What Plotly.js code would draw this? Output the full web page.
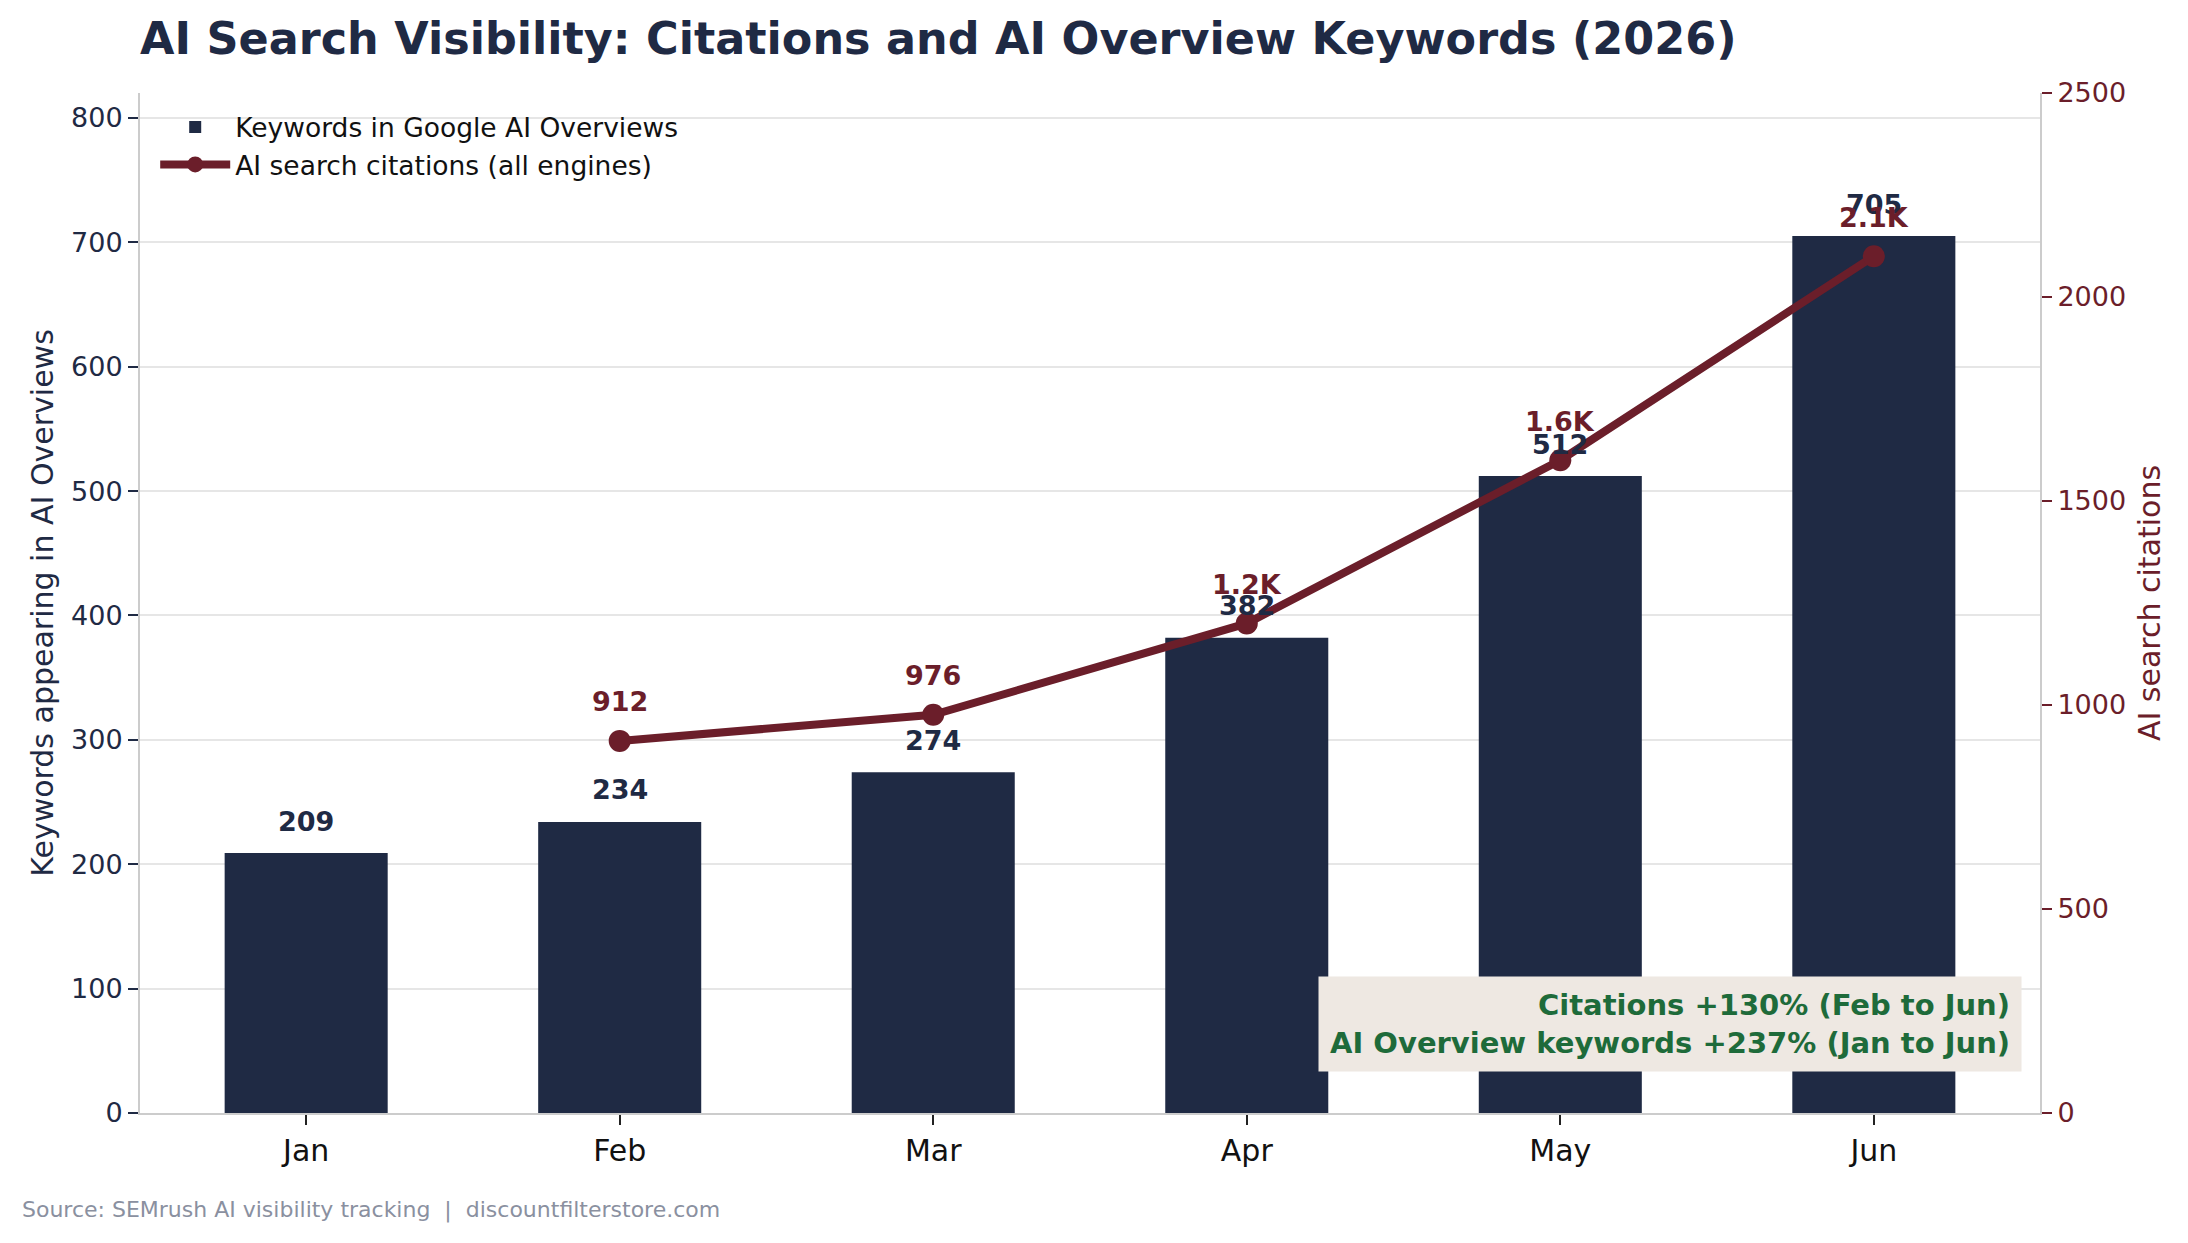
<!DOCTYPE html>
<html>
<head>
<meta charset="utf-8">
<script src="https://cdn.plot.ly/plotly-3.0.1.min.js"></script>
<style>
  html, body { margin: 0; padding: 0; background: #ffffff; }
  #chart { width: 2188px; height: 1243px; }
</style>
</head>
<body>
<div id="chart"></div>
<script>
// data
const months = ['Jan', 'Feb', 'Mar', 'Apr', 'May', 'Jun'];
const overviewKeywords = [209, 234, 274, 382, 512, 705];
const citations = [null, 912, 976, 1200, 1600, 2100];
const summaryLines = ['Citations +130% (Feb to Jun)', 'AI Overview keywords +237% (Jan to Jun)'];

const NAVY = '#1f2a44';
const MAROON = '#6b1e2a';
const GREEN = '#1e6b3a';
const FONT = 'DejaVu Sans, Liberation Sans, sans-serif';

fmtCitation = (v) => v >= 1000 ? `${(v / 1000).toFixed(1)}K` : `${v}`;

buildChart = () => {
    const bars = {
        x: months,
        y: overviewKeywords,
        type: 'bar',
        name: 'Keywords in Google AI Overviews',
        width: 0.52,
        marker: { color: NAVY },
        hoverinfo: 'skip'
    };
    const line = {
        x: months,
        y: citations,
        yaxis: 'y2',
        type: 'scatter',
        mode: 'lines+markers',
        name: 'AI search citations (all engines)',
        line: { color: MAROON, width: 8 },
        marker: { color: MAROON, size: 22 },
        connectgaps: false,
        hoverinfo: 'skip'
    };

    // value labels above bars and points
    const barLabels = overviewKeywords.map((v, i) => ({
        x: months[i], y: v, xref: 'x', yref: 'y',
        text: `<b>${v}</b>`, showarrow: false,
        yanchor: 'middle', yshift: 32,
        font: { family: FONT, size: 27, color: NAVY }
    }));
    const lineLabels = citations.map((v, i) => v === null ? null : ({
        x: months[i], y: v, xref: 'x', yref: 'y2',
        text: `<b>${fmtCitation(v)}</b>`, showarrow: false,
        yanchor: 'middle', yshift: 39,
        font: { family: FONT, size: 27, color: MAROON }
    })).filter((a) => a !== null);

    const summary = {
        xref: 'paper', yref: 'paper', x: 0.9905, y: 0.04,
        xanchor: 'right', yanchor: 'bottom', align: 'right',
        text: summaryLines.map((s) => `<b>${s}</b>`).join('<br>'),
        showarrow: false,
        bgcolor: '#eee8e2', borderpad: 11,
        font: { family: FONT, size: 29, color: GREEN }
    };
    const source = {
        xref: 'paper', yref: 'paper', x: -0.063, y: -0.095,
        xanchor: 'left', yanchor: 'middle',
        text: 'Source: SEMrush AI visibility tracking  |  discountfilterstore.com',
        showarrow: false,
        font: { family: FONT, size: 22, color: '#8a90a0' }
    };

    const layout = {
        width: 2188,
        height: 1243,
        margin: { l: 140, r: 148, t: 93, b: 130 },
        paper_bgcolor: '#ffffff',
        plot_bgcolor: '#ffffff',
        font: { family: FONT, color: NAVY },
        title: {
            text: '<b>AI Search Visibility: Citations and AI Overview Keywords (2026)</b>',
            font: { family: FONT, size: 44.5, color: NAVY },
            xref: 'paper', x: 0, xanchor: 'left',
            yref: 'container', y: 1 - 38 / 1243, yanchor: 'middle'
        },
        bargap: 0.48,
        xaxis: {
            range: [-0.53, 5.53],
            showline: true, linecolor: '#cccccc', linewidth: 2,
            ticks: 'outside', ticklen: 10, tickwidth: 2, tickcolor: '#222222',
            tickfont: { family: FONT, size: 30, color: '#111111' },
            showgrid: false, zeroline: false
        },
        yaxis: {
            range: [0, 820], dtick: 100,
            title: {
                text: 'Keywords appearing in AI Overviews',
                font: { family: FONT, size: 30, color: NAVY },
                standoff: 9
            },
            showline: true, linecolor: '#cccccc', linewidth: 2,
            ticks: 'outside', ticklen: 10, tickwidth: 2, tickcolor: NAVY,
            tickfont: { family: FONT, size: 27, color: NAVY },
            showgrid: true, gridcolor: '#e6e6e6', gridwidth: 2,
            zeroline: false
        },
        yaxis2: {
            overlaying: 'y', side: 'right',
            range: [0, 2500], dtick: 500,
            title: {
                text: 'AI search citations',
                font: { family: FONT, size: 30, color: MAROON },
                standoff: 14
            },
            showline: true, linecolor: '#cccccc', linewidth: 2,
            ticks: 'outside', ticklen: 10, tickwidth: 2, tickcolor: MAROON,
            tickfont: { family: FONT, size: 27, color: MAROON },
            showgrid: false, zeroline: false
        },
        legend: {
            x: 0.008, y: 0.99, xanchor: 'left', yanchor: 'top',
            bgcolor: 'rgba(255,255,255,0)',
            font: { family: FONT, size: 26.5, color: '#111111' },
            itemwidth: 70, tracegroupgap: 4
        },
        showlegend: true,
        annotations: [...barLabels, ...lineLabels, summary, source]
    };

    Plotly.newPlot('chart', [bars, line], layout, { displayModeBar: false, staticPlot: true });
};

window.onload = () => {
    buildChart();
};
</script>
</body>
</html>
